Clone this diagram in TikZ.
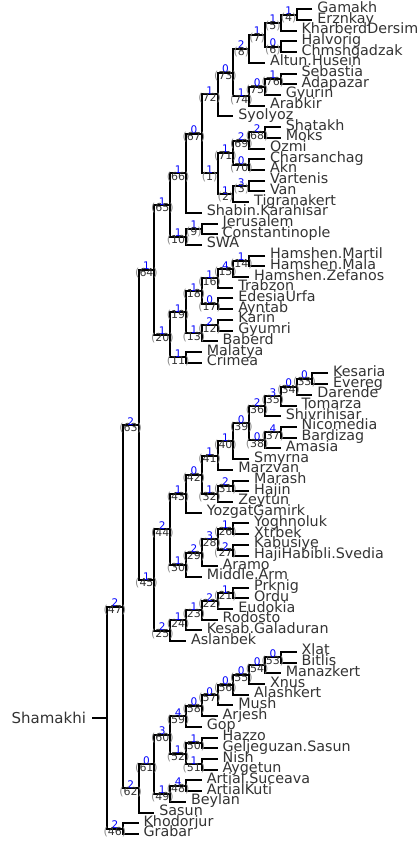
\documentclass[tikz,border=0pt]{standalone}
\usepackage{fontspec}
\setmainfont{DejaVu Sans}
\begin{document}
\begin{tikzpicture}[x=1pt,y=-1pt,
  declare function={X(\d)=107+15.8*\d; Y(\i)=9.3+10.71*\i;},
  edge/.style={draw=black,line width=2pt},
  leaf/.style={anchor=west,inner xsep=5pt,inner ysep=0pt,outer sep=0pt,text height=9pt,text depth=3pt,text=black!80,font=\fontsize{14.3}{15}\selectfont},
  bnum/.style={anchor=base,inner sep=0pt,outer sep=0pt,text=blue,font=\fontsize{10.5}{11}\selectfont},
  pnum/.style={anchor=base,inner sep=0pt,outer sep=0pt,yshift=-6.8pt,text=black!80,font=\fontsize{11}{11}\selectfont},
  rootlab/.style={anchor=east,inner xsep=6pt,inner ysep=0pt,outer sep=0pt,text height=14pt,text depth=3.2pt,text=black!80,font=\fontsize{15}{16}\selectfont}]
\useasboundingbox (0,0) rectangle (420,860);
\newcommand\E[3]{\draw[edge] (#2) -| (#1) |- (#3);}
\newcommand\lab[2]{\node[bnum] (b#1) at ([xshift=-7.9pt]n#1) {#2};
  \node[pnum] (p#1) at ([xshift=-7.9pt]n#1) {{\color{black!45}(}#1{\color{black!45})}};}
% leaves
\node[leaf] (Gamakh) at ({X(13)},{Y(0)}) {Gamakh};
\node[leaf] (Erznkay) at ({X(13)},{Y(1)}) {Erznkay};
\node[leaf] (KharberdDersim) at ({X(12)},{Y(2)}) {KharberdDersim};
\node[leaf] (Halvorig) at ({X(12)},{Y(3)}) {Halvorig};
\node[leaf] (Chmshgadzak) at ({X(12)},{Y(4)}) {Chmshgadzak};
\node[leaf] (AltunHusein) at ({X(10)},{Y(5)}) {Altun.Husein};
\node[leaf] (Sebastia) at ({X(12)},{Y(6)}) {Sebastia};
\node[leaf] (Adapazar) at ({X(12)},{Y(7)}) {Adapazar};
\node[leaf] (Gyurin) at ({X(11)},{Y(8)}) {Gyurin};
\node[leaf] (Arabkir) at ({X(10)},{Y(9)}) {Arabkir};
\node[leaf] (Syolyoz) at ({X(8)},{Y(10)}) {Syolyoz};
\node[leaf] (Shatakh) at ({X(11)},{Y(11)}) {Shatakh};
\node[leaf] (Moks) at ({X(11)},{Y(12)}) {Moks};
\node[leaf] (Ozmi) at ({X(10)},{Y(13)}) {Ozmi};
\node[leaf] (Charsanchag) at ({X(10)},{Y(14)}) {Charsanchag};
\node[leaf] (Akn) at ({X(10)},{Y(15)}) {Akn};
\node[leaf] (Vartenis) at ({X(10)},{Y(16)}) {Vartenis};
\node[leaf] (Van) at ({X(10)},{Y(17)}) {Van};
\node[leaf] (Tigranakert) at ({X(9)},{Y(18)}) {Tigranakert};
\node[leaf] (ShabinKarahisar) at ({X(6)},{Y(19)}) {Shabin.Karahisar};
\node[leaf] (Jerusalem) at ({X(7)},{Y(20)}) {Jerusalem};
\node[leaf] (Constantinople) at ({X(7)},{Y(21)}) {Constantinople};
\node[leaf] (SWA) at ({X(6)},{Y(22)}) {SWA};
\node[leaf] (HamshenMartil) at ({X(10)},{Y(23)}) {Hamshen.Martil};
\node[leaf] (HamshenMala) at ({X(10)},{Y(24)}) {Hamshen.Mala};
\node[leaf] (HamshenZefanos) at ({X(9)},{Y(25)}) {Hamshen.Zefanos};
\node[leaf] (Trabzon) at ({X(8)},{Y(26)}) {Trabzon};
\node[leaf] (EdesiaUrfa) at ({X(8)},{Y(27)}) {EdesiaUrfa};
\node[leaf] (Ayntab) at ({X(8)},{Y(28)}) {Ayntab};
\node[leaf] (Karin) at ({X(8)},{Y(29)}) {Karin};
\node[leaf] (Gyumri) at ({X(8)},{Y(30)}) {Gyumri};
\node[leaf] (Baberd) at ({X(7)},{Y(31)}) {Baberd};
\node[leaf] (Malatya) at ({X(6)},{Y(32)}) {Malatya};
\node[leaf] (Crimea) at ({X(6)},{Y(33)}) {Crimea};
\node[leaf] (Kesaria) at ({X(14)},{Y(34)}) {Kesaria};
\node[leaf] (Evereg) at ({X(14)},{Y(35)}) {Evereg};
\node[leaf] (Darende) at ({X(13)},{Y(36)}) {Darende};
\node[leaf] (Tomarza) at ({X(12)},{Y(37)}) {Tomarza};
\node[leaf] (Shivrihisar) at ({X(11)},{Y(38)}) {Shivrihisar};
\node[leaf] (Nicomedia) at ({X(12)},{Y(39)}) {Nicomedia};
\node[leaf] (Bardizag) at ({X(12)},{Y(40)}) {Bardizag};
\node[leaf] (Amasia) at ({X(11)},{Y(41)}) {Amasia};
\node[leaf] (Smyrna) at ({X(9)},{Y(42)}) {Smyrna};
\node[leaf] (Marzvan) at ({X(8)},{Y(43)}) {Marzvan};
\node[leaf] (Marash) at ({X(9)},{Y(44)}) {Marash};
\node[leaf] (Hajin) at ({X(9)},{Y(45)}) {Hajin};
\node[leaf] (Zeytun) at ({X(8)},{Y(46)}) {Zeytun};
\node[leaf] (YozgatGamirk) at ({X(6)},{Y(47)}) {YozgatGamirk};
\node[leaf] (Yoghnoluk) at ({X(9)},{Y(48)}) {Yoghnoluk};
\node[leaf] (Xtrbek) at ({X(9)},{Y(49)}) {Xtrbek};
\node[leaf] (Kabusiye) at ({X(9)},{Y(50)}) {Kabusiye};
\node[leaf] (HajiHabibliSvedia) at ({X(9)},{Y(51)}) {HajiHabibli.Svedia};
\node[leaf] (Aramo) at ({X(7)},{Y(52)}) {Aramo};
\node[leaf] (MiddleArm) at ({X(6)},{Y(53)}) {Middle.Arm};
\node[leaf] (Prknig) at ({X(9)},{Y(54)}) {Prknig};
\node[leaf] (Ordu) at ({X(9)},{Y(55)}) {Ordu};
\node[leaf] (Eudokia) at ({X(8)},{Y(56)}) {Eudokia};
\node[leaf] (Rodosto) at ({X(7)},{Y(57)}) {Rodosto};
\node[leaf] (KesabGaladuran) at ({X(6)},{Y(58)}) {Kesab.Galaduran};
\node[leaf] (Aslanbek) at ({X(5)},{Y(59)}) {Aslanbek};
\node[leaf] (Xlat) at ({X(12)},{Y(60)}) {Xlat};
\node[leaf] (Bitlis) at ({X(12)},{Y(61)}) {Bitlis};
\node[leaf] (Manazkert) at ({X(11)},{Y(62)}) {Manazkert};
\node[leaf] (Xnus) at ({X(10)},{Y(63)}) {Xnus};
\node[leaf] (Alashkert) at ({X(9)},{Y(64)}) {Alashkert};
\node[leaf] (Mush) at ({X(8)},{Y(65)}) {Mush};
\node[leaf] (Arjesh) at ({X(7)},{Y(66)}) {Arjesh};
\node[leaf] (Gop) at ({X(6)},{Y(67)}) {Gop};
\node[leaf] (Hazzo) at ({X(7)},{Y(68)}) {Hazzo};
\node[leaf] (GeljeguzanSasun) at ({X(7)},{Y(69)}) {Geljeguzan.Sasun};
\node[leaf] (Nish) at ({X(7)},{Y(70)}) {Nish};
\node[leaf] (Aygetun) at ({X(7)},{Y(71)}) {Aygetun};
\node[leaf] (ArtialSuceava) at ({X(6)},{Y(72)}) {Artial.Suceava};
\node[leaf] (ArtialKuti) at ({X(6)},{Y(73)}) {ArtialKuti};
\node[leaf] (Beylan) at ({X(5)},{Y(74)}) {Beylan};
\node[leaf] (Sasun) at ({X(3)},{Y(75)}) {Sasun};
\node[leaf] (Khodorjur) at ({X(2)},{Y(76)}) {Khodorjur};
\node[leaf] (Grabar) at ({X(2)},{Y(77)}) {Grabar};
% internal nodes
\coordinate (n4) at ({X(12)},{Y(0.5)});
\coordinate (n5) at ({X(11)},{Y(1.25)});
\coordinate (n6) at ({X(11)},{Y(3.5)});
\coordinate (n7) at ({X(10)},{Y(2.375)});
\coordinate (n8) at ({X(9)},{Y(3.6875)});
\coordinate (n76) at ({X(11)},{Y(6.5)});
\coordinate (n75) at ({X(10)},{Y(7.25)});
\coordinate (n74) at ({X(9)},{Y(8.125)});
\coordinate (n73) at ({X(8)},{Y(5.90625)});
\coordinate (n72) at ({X(7)},{Y(7.953125)});
\coordinate (n68) at ({X(10)},{Y(11.5)});
\coordinate (n69) at ({X(9)},{Y(12.25)});
\coordinate (n70) at ({X(9)},{Y(14.5)});
\coordinate (n71) at ({X(8)},{Y(13.375)});
\coordinate (n3) at ({X(9)},{Y(16.5)});
\coordinate (n2) at ({X(8)},{Y(17.25)});
\coordinate (n1) at ({X(7)},{Y(15.3125)});
\coordinate (n67) at ({X(6)},{Y(11.6328)});
\coordinate (n66) at ({X(5)},{Y(15.3164)});
\coordinate (n9) at ({X(6)},{Y(20.5)});
\coordinate (n10) at ({X(5)},{Y(21.25)});
\coordinate (n65) at ({X(4)},{Y(18.2832)});
\coordinate (n14) at ({X(9)},{Y(23.5)});
\coordinate (n15) at ({X(8)},{Y(24.25)});
\coordinate (n16) at ({X(7)},{Y(25.125)});
\coordinate (n17) at ({X(7)},{Y(27.5)});
\coordinate (n18) at ({X(6)},{Y(26.3125)});
\coordinate (n12) at ({X(7)},{Y(29.5)});
\coordinate (n13) at ({X(6)},{Y(30.25)});
\coordinate (n19) at ({X(5)},{Y(28.28125)});
\coordinate (n11) at ({X(5)},{Y(32.5)});
\coordinate (n20) at ({X(4)},{Y(30.390625)});
\coordinate (n64) at ({X(3)},{Y(24.3369)});
\coordinate (n33) at ({X(13)},{Y(34.5)});
\coordinate (n34) at ({X(12)},{Y(35.25)});
\coordinate (n35) at ({X(11)},{Y(36.125)});
\coordinate (n36) at ({X(10)},{Y(37.0625)});
\coordinate (n37) at ({X(11)},{Y(39.5)});
\coordinate (n38) at ({X(10)},{Y(40.25)});
\coordinate (n39) at ({X(9)},{Y(38.65625)});
\coordinate (n40) at ({X(8)},{Y(40.328125)});
\coordinate (n41) at ({X(7)},{Y(41.6640625)});
\coordinate (n31) at ({X(8)},{Y(44.5)});
\coordinate (n32) at ({X(7)},{Y(45.25)});
\coordinate (n42) at ({X(6)},{Y(43.45703)});
\coordinate (n43) at ({X(5)},{Y(45.22852)});
\coordinate (n26) at ({X(8)},{Y(48.5)});
\coordinate (n27) at ({X(8)},{Y(50.5)});
\coordinate (n28) at ({X(7)},{Y(49.5)});
\coordinate (n29) at ({X(6)},{Y(50.75)});
\coordinate (n30) at ({X(5)},{Y(51.875)});
\coordinate (n44) at ({X(4)},{Y(48.55176)});
\coordinate (n21) at ({X(8)},{Y(54.5)});
\coordinate (n22) at ({X(7)},{Y(55.25)});
\coordinate (n23) at ({X(6)},{Y(56.125)});
\coordinate (n24) at ({X(5)},{Y(57.0625)});
\coordinate (n25) at ({X(4)},{Y(58.03125)});
\coordinate (n45) at ({X(3)},{Y(53.2915)});
\coordinate (n63) at ({X(2)},{Y(38.8142)});
\coordinate (n53) at ({X(11)},{Y(60.5)});
\coordinate (n54) at ({X(10)},{Y(61.25)});
\coordinate (n55) at ({X(9)},{Y(62.125)});
\coordinate (n56) at ({X(8)},{Y(63.0625)});
\coordinate (n57) at ({X(7)},{Y(64.03125)});
\coordinate (n58) at ({X(6)},{Y(65.015625)});
\coordinate (n59) at ({X(5)},{Y(66.0078)});
\coordinate (n50) at ({X(6)},{Y(68.5)});
\coordinate (n51) at ({X(6)},{Y(70.5)});
\coordinate (n52) at ({X(5)},{Y(69.5)});
\coordinate (n60) at ({X(4)},{Y(67.7539)});
\coordinate (n48) at ({X(5)},{Y(72.5)});
\coordinate (n49) at ({X(4)},{Y(73.25)});
\coordinate (n61) at ({X(3)},{Y(70.50195)});
\coordinate (n62) at ({X(2)},{Y(72.75098)});
\coordinate (n47) at ({X(1)},{Y(55.78259)});
\coordinate (n46) at ({X(1)},{Y(76.5)});
\coordinate (root) at ({X(0)},{Y(66.1413)});
\node[rootlab] (Shamakhi) at ({X(0)-15},{Y(66.1413)}) {Shamakhi};
% edges
\E{n4}{Gamakh.west}{Erznkay.west}
\E{n5}{n4}{KharberdDersim.west}
\E{n6}{Halvorig.west}{Chmshgadzak.west}
\E{n7}{n5}{n6}
\E{n8}{n7}{AltunHusein.west}
\E{n76}{Sebastia.west}{Adapazar.west}
\E{n75}{n76}{Gyurin.west}
\E{n74}{n75}{Arabkir.west}
\E{n73}{n8}{n74}
\E{n72}{n73}{Syolyoz.west}
\E{n68}{Shatakh.west}{Moks.west}
\E{n69}{n68}{Ozmi.west}
\E{n70}{Charsanchag.west}{Akn.west}
\E{n71}{n69}{n70}
\E{n3}{Vartenis.west}{Van.west}
\E{n2}{n3}{Tigranakert.west}
\E{n1}{n71}{n2}
\E{n67}{n72}{n1}
\E{n66}{n67}{ShabinKarahisar.west}
\E{n9}{Jerusalem.west}{Constantinople.west}
\E{n10}{n9}{SWA.west}
\E{n65}{n66}{n10}
\E{n14}{HamshenMartil.west}{HamshenMala.west}
\E{n15}{n14}{HamshenZefanos.west}
\E{n16}{n15}{Trabzon.west}
\E{n17}{EdesiaUrfa.west}{Ayntab.west}
\E{n18}{n16}{n17}
\E{n12}{Karin.west}{Gyumri.west}
\E{n13}{n12}{Baberd.west}
\E{n19}{n18}{n13}
\E{n11}{Malatya.west}{Crimea.west}
\E{n20}{n19}{n11}
\E{n64}{n65}{n20}
\E{n33}{Kesaria.west}{Evereg.west}
\E{n34}{n33}{Darende.west}
\E{n35}{n34}{Tomarza.west}
\E{n36}{n35}{Shivrihisar.west}
\E{n37}{Nicomedia.west}{Bardizag.west}
\E{n38}{n37}{Amasia.west}
\E{n39}{n36}{n38}
\E{n40}{n39}{Smyrna.west}
\E{n41}{n40}{Marzvan.west}
\E{n31}{Marash.west}{Hajin.west}
\E{n32}{n31}{Zeytun.west}
\E{n42}{n41}{n32}
\E{n43}{n42}{YozgatGamirk.west}
\E{n26}{Yoghnoluk.west}{Xtrbek.west}
\E{n27}{Kabusiye.west}{HajiHabibliSvedia.west}
\E{n28}{n26}{n27}
\E{n29}{n28}{Aramo.west}
\E{n30}{n29}{MiddleArm.west}
\E{n44}{n43}{n30}
\E{n21}{Prknig.west}{Ordu.west}
\E{n22}{n21}{Eudokia.west}
\E{n23}{n22}{Rodosto.west}
\E{n24}{n23}{KesabGaladuran.west}
\E{n25}{n24}{Aslanbek.west}
\E{n45}{n44}{n25}
\E{n63}{n64}{n45}
\E{n53}{Xlat.west}{Bitlis.west}
\E{n54}{n53}{Manazkert.west}
\E{n55}{n54}{Xnus.west}
\E{n56}{n55}{Alashkert.west}
\E{n57}{n56}{Mush.west}
\E{n58}{n57}{Arjesh.west}
\E{n59}{n58}{Gop.west}
\E{n50}{Hazzo.west}{GeljeguzanSasun.west}
\E{n51}{Nish.west}{Aygetun.west}
\E{n52}{n50}{n51}
\E{n60}{n59}{n52}
\E{n48}{ArtialSuceava.west}{ArtialKuti.west}
\E{n49}{n48}{Beylan.west}
\E{n61}{n60}{n49}
\E{n62}{n61}{Sasun.west}
\E{n47}{n63}{n62}
\E{n46}{Khodorjur.west}{Grabar.west}
\E{root}{n47}{n46}
\draw[edge] (root) -- (Shamakhi.east);
% labels
\lab{4}{1}\lab{5}{1}\lab{6}{0}\lab{7}{1}\lab{8}{2}
\lab{76}{1}\lab{75}{0}\lab{74}{1}\lab{73}{0}\lab{72}{1}
\lab{68}{2}\lab{69}{2}\lab{70}{0}\lab{71}{1}
\lab{3}{3}\lab{2}{1}\lab{1}{1}\lab{67}{0}\lab{66}{1}
\lab{9}{1}\lab{10}{1}\lab{65}{1}
\lab{14}{1}\lab{15}{4}\lab{16}{1}\lab{17}{0}\lab{18}{1}
\lab{12}{2}\lab{13}{1}\lab{19}{1}\lab{11}{1}\lab{20}{1}\lab{64}{1}
\lab{33}{0}\lab{34}{0}\lab{35}{3}\lab{36}{2}
\lab{37}{4}\lab{38}{0}\lab{39}{0}\lab{40}{1}\lab{41}{1}
\lab{31}{2}\lab{32}{1}\lab{42}{0}\lab{43}{1}
\lab{26}{1}\lab{27}{2}\lab{28}{3}\lab{29}{2}\lab{30}{1}\lab{44}{2}
\lab{21}{1}\lab{22}{2}\lab{23}{1}\lab{24}{1}\lab{25}{2}\lab{45}{1}\lab{63}{2}
\lab{53}{0}\lab{54}{0}\lab{55}{0}\lab{56}{0}\lab{57}{0}\lab{58}{0}\lab{59}{4}
\lab{50}{1}\lab{51}{1}\lab{52}{1}\lab{60}{3}
\lab{48}{4}\lab{49}{1}\lab{61}{0}\lab{62}{2}\lab{47}{2}\lab{46}{2}
\end{tikzpicture}
\end{document}
